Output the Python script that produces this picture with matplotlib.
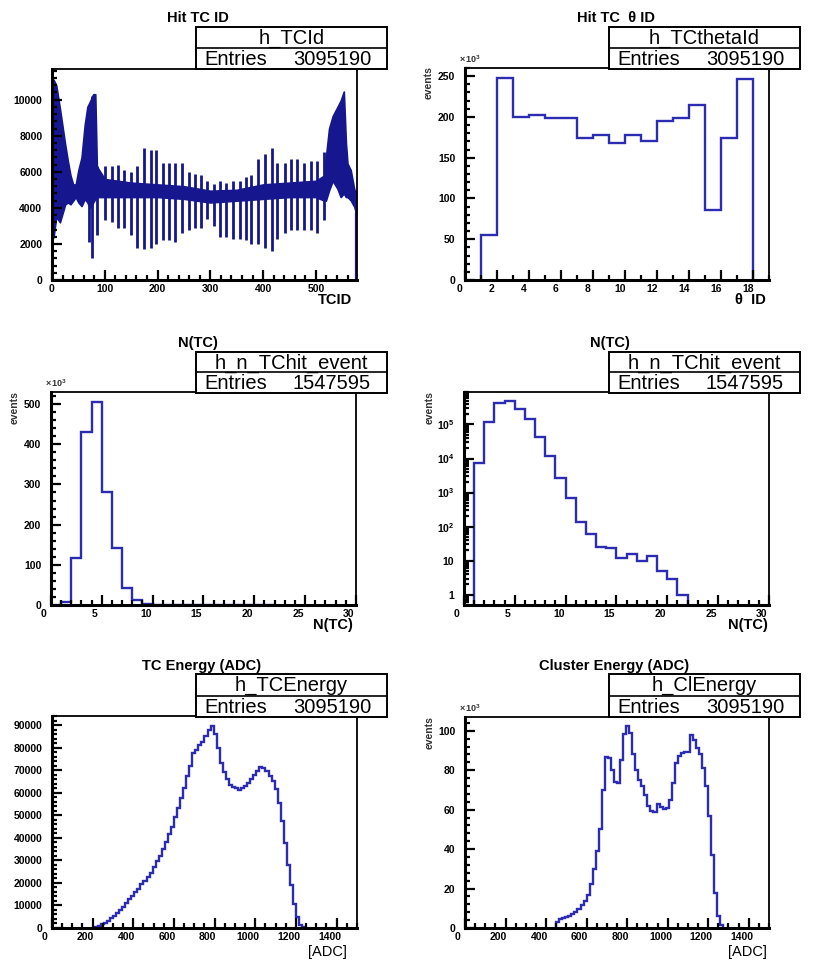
import numpy as np
import matplotlib
matplotlib.use("Agg")
import matplotlib.pyplot as plt
import matplotlib.transforms as mtransforms
from matplotlib.patches import Rectangle
from matplotlib.lines import Line2D
from matplotlib.ticker import MultipleLocator, FixedLocator, FixedFormatter, LogLocator, NullFormatter

plt.rcParams["font.family"] = ["Liberation Sans", "DejaVu Sans"]
plt.rcParams["font.weight"] = "bold"
plt.rcParams["mathtext.fontset"] = "custom"
plt.rcParams["mathtext.rm"] = "Liberation Sans"
plt.rcParams["mathtext.bf"] = "Liberation Sans:bold"

W, H = 820, 960
LINE = "#2c2cb2"
BAND = "#16168e"

# ── data ────────────────────────────────────────────────────────────────────
# Hit TC ID: dense band (envelope) + the periodic spikes
tcid_band_x = [0, 3, 8, 15, 20, 25, 30, 35, 40, 45, 50, 56, 62, 67, 72, 78, 82, 85,
               100, 150, 200, 250, 300, 350, 400, 450, 500, 516, 519, 525, 532, 541,
               547, 553, 557, 560, 566, 573, 576]
tcid_band_hi = [10500, 11100, 10800, 9500, 8500, 7500, 6600, 5800, 5300, 5300, 6100, 6800,
                8600, 9600, 9900, 10300, 10300, 6300, 5600, 5400, 5300, 5200, 4950, 5000,
                5300, 5400, 5500, 5800, 6800, 8400, 9100, 9600, 9950, 10450, 7600, 6450,
                6100, 5000, 4900]
tcid_band_lo = [2200, 2400, 3500, 3200, 3700, 4200, 4300, 4200, 4400, 4600, 4300, 4100,
                4500, 4300, 4000, 4300, 4500, 4600, 4600, 4600, 4600, 4500, 4300, 4400,
                4500, 4600, 4600, 4400, 4400, 4970, 5500, 5060, 4600, 4800, 4600, 4600,
                4420, 4050, 3700]
tcid_spike_x = [70, 76, 85, 101, 113, 125, 136, 149, 161, 174, 187, 197, 210, 222, 234, 247,
                259, 271, 282, 294, 307, 318, 330, 343, 356, 367, 378, 391, 404, 416,
                427, 441, 453, 465, 478, 491, 502, 515]
tcid_spike_hi = [9700, 10200, 6300, 6300, 6300, 6400, 6100, 6000, 6300, 7300, 7200, 7200,
                 6500, 6500, 6500, 6500, 6000, 5900, 5800, 5500, 5300, 5500, 5400, 5500,
                 5500, 5700, 5800, 6700, 7000, 7300, 6500, 6500, 6700, 6700, 6500, 6600,
                 6600, 7100]
tcid_spike_lo = [2100, 1200, 2500, 3300, 3200, 2900, 2900, 2500, 1800, 1700, 1800, 2000,
                 2200, 2200, 2100, 2600, 2800, 2900, 2900, 3400, 3000, 2400, 2400, 2300,
                 2300, 2200, 2000, 2000, 1800, 1600, 2300, 2600, 2800, 2800, 2800, 2800,
                 2600, 3300]

# Hit TC theta ID (x 10^3), bins [1,2) ... [17,18)
theta_edges = list(range(1, 19))
theta_counts = [55, 248, 200, 202, 199, 199, 174, 178, 168, 178, 170, 195, 199, 215, 86, 174, 247]

# N(TC) per event, bins [1,2) ... [21,22)
ntc_edges = list(range(1, 23))
ntc_counts = [7500, 118000, 430000, 505000, 280000, 143000, 43000, 11500, 2700, 680, 138,
              61, 26, 23, 12, 16, 10, 14, 5, 3, 1]

# TC energy, 15-ADC bins starting at 195
tce_start, tce_width = 195, 15
tce_counts = [200, 500, 1000, 1600, 2400, 3300, 4300, 5300, 6500, 8000, 9500, 11000, 12700,
              14300, 16000, 17500, 19300, 21000, 22500, 24500, 27000, 29500, 32000, 35000,
              38000, 41500, 45000, 49000, 53000, 57500, 62000, 67500, 72000, 77500, 79000,
              81000, 82500, 85000, 88000, 89500, 86000, 80000, 73000, 69000, 66000, 63500,
              62500, 62000, 61200, 62000, 63000, 64500, 66000, 68000, 69500, 71500, 71000,
              69500, 67500, 65000, 61500, 55500, 47500, 37500, 28000, 19000, 10500, 5000,
              1500, 300]

# Cluster energy (x 10^3), 15-ADC bins starting at 450
cle_start, cle_width = 450, 15
cle_counts = [3.0, 4.5, 5.2, 5.6, 6.3, 7.2, 8.3, 9.5, 11.5, 13.5, 16.5, 22.5, 30, 39, 50, 70,
              86.5, 86, 80, 74, 73.5, 85, 98.5, 102.5, 99, 88, 80, 75, 72, 67.5, 62, 59.5,
              59, 63, 61.5, 60.5, 61, 65, 73.5, 83.5, 87, 88.5, 89.5, 89.5, 98, 95.5, 91.5,
              88, 81, 72, 57, 37, 18, 6, 1.5]

fig = plt.figure(figsize=(W / 100, H / 100), dpi=100)


def px_axes(l, t, r, b):
    return fig.add_axes([l / W, 1 - b / H, (r - l) / W, (b - t) / H])


def style(ax, xmaj, xmin, ymaj=None, ymin=None, xshift=-5):
    for s in ax.spines.values():
        s.set_linewidth(1.3)
    ax.spines["left"].set_linewidth(2.2)
    ax.spines["bottom"].set_linewidth(2.2)
    ax.tick_params(which="both", direction="in", top=False, right=False,
                   width=1.6, labelsize=7.5, colors="black")
    ax.tick_params(axis="x", pad=3)
    ax.tick_params(axis="y", pad=7)
    ax.tick_params(which="major", length=7)
    ax.tick_params(which="minor", length=3.5)
    ax.xaxis.set_major_locator(MultipleLocator(xmaj))
    ax.xaxis.set_minor_locator(MultipleLocator(xmin))
    if ymaj is not None:
        ax.yaxis.set_major_locator(MultipleLocator(ymaj))
        ax.yaxis.set_minor_locator(MultipleLocator(ymin))
    # labels in the reference sit a few pixels left of their ticks
    if xshift:
        off = mtransforms.ScaledTranslation(xshift / 100, 0, fig.dpi_scale_trans)
        for lab in ax.get_xticklabels():
            lab.set_transform(lab.get_transform() + off)


def ftext(x, y, s, **kw):
    fig.text(x / W, 1 - y / H, s, **kw)


def stats_box(l, t, r, b, name, entries):
    mid = (t + b) / 2
    fig.patches.append(Rectangle((l / W, 1 - b / H), (r - l) / W, (b - t) / H,
                                 transform=fig.transFigure, facecolor="white",
                                 edgecolor="black", lw=1.4, zorder=5))
    fig.lines.append(Line2D([l / W, r / W], [1 - mid / H] * 2, transform=fig.transFigure,
                            color="black", lw=1.2, zorder=6))
    ftext((l + r) / 2, (t + mid) / 2 + 1, name, ha="center", va="center",
          fontsize=14.5, fontweight="normal", zorder=7)
    ftext(l + 8, (mid + b) / 2 + 1, "Entries", ha="left", va="center",
          fontsize=14.5, fontweight="normal", zorder=7)
    ftext(r - 16, (mid + b) / 2 + 1, entries, ha="right", va="center",
          fontsize=14.5, fontweight="normal", zorder=7)


def events_label(x, y):
    ftext(x, y, "events", rotation=90, ha="center", va="top", fontsize=7.5, color="#333333")


def times_label(ax):
    ax.text(-0.02, 1.015, r"$\times\,10^{3}$", transform=ax.transAxes, fontsize=6.5,
            ha="left", va="bottom", color="#333333")


TITLE_FS = 10.5

# ── Panel 1: Hit TC ID ──────────────────────────────────────────────────────
ax1 = px_axes(52, 69, 357, 280)
ax1.fill_between(tcid_band_x, tcid_band_lo, tcid_band_hi, color=BAND, lw=1.2, edgecolor=BAND)
ax1.vlines(tcid_spike_x, tcid_spike_lo, tcid_spike_hi, color=BAND, lw=2.0)
ax1.vlines([tcid_band_x[0], tcid_band_x[-1]], 0, [tcid_band_lo[0], tcid_band_lo[-1]],
           color=BAND, lw=1.6)
ax1.set_xlim(0, 578)
ax1.set_ylim(0, 11700)
style(ax1, 100, 20, 2000, 400, xshift=0)
ftext(198, 18, "Hit TC ID", ha="center", va="center", fontsize=TITLE_FS)
ftext(352, 300, "TCID", ha="right", va="center", fontsize=TITLE_FS)
stats_box(196, 27, 387, 69, "h_TCId", "3095190")

# ── Panel 2: Hit TC theta ID ────────────────────────────────────────────────
ax2 = px_axes(465, 68, 769, 280)
ax2.stairs(theta_counts, theta_edges, color=LINE, lw=1.7)
ax2.set_xlim(0, 19)
ax2.set_ylim(0, 260)
style(ax2, 2, 1, 50, 10)
times_label(ax2)
events_label(429, 66)
ftext(616, 18, "Hit TC  θ ID", ha="center", va="center", fontsize=TITLE_FS)
ftext(766, 300, "θ  ID", ha="right", va="center", fontsize=TITLE_FS)
stats_box(609, 27, 800, 69, "h_TCthetaId", "3095190")

# ── Panel 3: N(TC) linear (x 10^3) ──────────────────────────────────────────
ax3 = px_axes(51, 392, 356, 605)
ax3.stairs(np.array(ntc_counts) / 1e3, ntc_edges, color=LINE, lw=1.7)
ax3.set_xlim(0, 30)
ax3.set_ylim(0, 530)
style(ax3, 5, 1, 100, 20, xshift=-7)
times_label(ax3)
events_label(15, 391)
ftext(198, 343, "N(TC)", ha="center", va="center", fontsize=TITLE_FS)
ftext(353, 625, "N(TC)", ha="right", va="center", fontsize=TITLE_FS)
stats_box(196, 352, 387, 393, "h_n_TChit_event", "1547595")

# ── Panel 4: N(TC) log ──────────────────────────────────────────────────────
ax4 = px_axes(464, 392, 769, 605)
ax4.set_yscale("log")
ax4.stairs(ntc_counts, ntc_edges, color=LINE, lw=1.7, baseline=0.5)
ax4.set_xlim(0, 30)
ax4.set_ylim(0.5, 9e5)
style(ax4, 5, 1, xshift=-7)
log_ticks = [1, 10, 1e2, 1e3, 1e4, 1e5]
log_labels = ["1", "10", r"$\mathbf{10^{2}}$", r"$\mathbf{10^{3}}$",
              r"$\mathbf{10^{4}}$", r"$\mathbf{10^{5}}$"]
ax4.yaxis.set_major_locator(FixedLocator(log_ticks))
ax4.yaxis.set_major_formatter(FixedFormatter(log_labels))
ax4.yaxis.set_minor_locator(LogLocator(base=10, subs=np.arange(2, 10), numticks=20))
ax4.yaxis.set_minor_formatter(NullFormatter())
events_label(430, 391)
ftext(610, 343, "N(TC)", ha="center", va="center", fontsize=TITLE_FS)
ftext(768, 625, "N(TC)", ha="right", va="center", fontsize=TITLE_FS)
stats_box(609, 352, 800, 393, "h_n_TChit_event", "1547595")

# ── Panel 5: TC energy ──────────────────────────────────────────────────────
ax5 = px_axes(52, 716, 357, 928)
tce_edges = tce_start + tce_width * np.arange(len(tce_counts) + 1)
ax5.stairs(tce_counts, tce_edges, color=LINE, lw=1.7)
ax5.set_xlim(0, 1500)
ax5.set_ylim(0, 94000)
style(ax5, 200, 50, 10000, 2000, xshift=-7)
ftext(202, 666, "TC Energy (ADC)", ha="center", va="center", fontsize=TITLE_FS)
ftext(347, 952, "[ADC]", ha="right", va="center", fontsize=TITLE_FS, fontweight="normal")
stats_box(196, 674, 387, 717, "h_TCEnergy", "3095190")

# ── Panel 6: Cluster energy (x 10^3) ────────────────────────────────────────
ax6 = px_axes(465, 717, 769, 928)
cle_edges = cle_start + cle_width * np.arange(len(cle_counts) + 1)
ax6.stairs(cle_counts, cle_edges, color=LINE, lw=1.7)
ax6.set_xlim(0, 1500)
ax6.set_ylim(0, 107)
style(ax6, 200, 50, 20, 4, xshift=-7)
times_label(ax6)
events_label(430, 716)
ftext(614, 666, "Cluster Energy (ADC)", ha="center", va="center", fontsize=TITLE_FS)
ftext(767, 952, "[ADC]", ha="right", va="center", fontsize=TITLE_FS, fontweight="normal")
stats_box(609, 674, 800, 717, "h_ClEnergy", "3095190")

fig.savefig("out.png", dpi=100)
